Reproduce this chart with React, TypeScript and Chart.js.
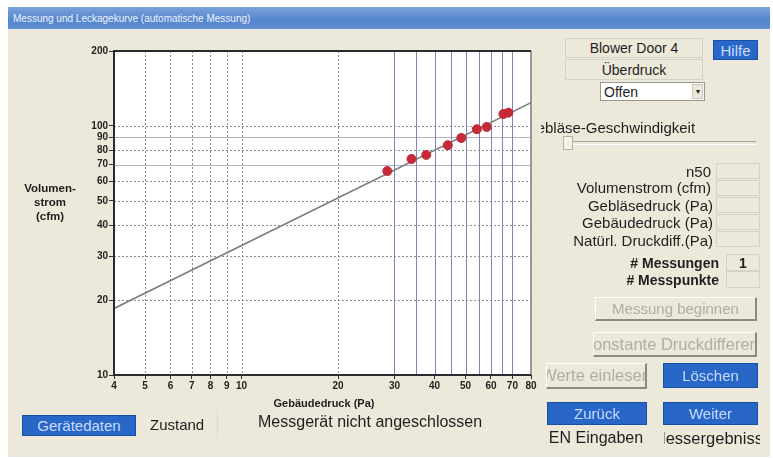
import React, { useEffect, useRef } from "react";
import { Chart, registerables } from "chart.js";

Chart.register(...registerables);

// ---- data ----
const measuredPressurePa = [28.5, 33.9, 37.7, 44.0, 48.5, 54.2, 58.2, 65.6, 68.0];
const measuredFlowCfm = [65.9, 73.7, 76.5, 83.7, 89.5, 97.0, 99.1, 111.7, 113.1];
const fitPressurePa = [4, 80];
const fitFlowCfm = [18.5, 124];
const xTickValues = [4, 5, 6, 7, 8, 9, 10, 20, 30, 40, 50, 60, 70, 80];
const yTickValues = [10, 20, 30, 40, 50, 60, 70, 80, 90, 100, 200];
const xGridDotted = [5, 6, 7, 8, 9, 10, 20];
const xGridMeasured = [30, 35, 40, 45, 50, 55, 60, 65, 70];
const yGridDotted = [20, 30, 40, 50, 60, 80, 100];
const yGridSolid = [70, 90];

const FONT = '"Liberation Sans", Arial, Helvetica, sans-serif';
const BEIGE = "#ECE9DB";
const BLUE = "#2866C8";

const framePlugin = {
  id: "framePlugin",
  beforeDraw(chart: any) {
    const { ctx, chartArea: a, scales } = chart;
    const x = scales.x;
    const y = scales.y;
    ctx.save();
    ctx.fillStyle = "#ffffff";
    ctx.fillRect(a.left, a.top, a.right - a.left, a.bottom - a.top);
    ctx.lineWidth = 1;
    const vline = (v: number) => {
      const px = Math.round(x.getPixelForValue(v)) + 0.5;
      ctx.beginPath();
      ctx.moveTo(px, a.top);
      ctx.lineTo(px, a.bottom);
      ctx.stroke();
    };
    const hline = (v: number) => {
      const py = Math.round(y.getPixelForValue(v)) + 0.5;
      ctx.beginPath();
      ctx.moveTo(a.left, py);
      ctx.lineTo(a.right, py);
      ctx.stroke();
    };
    ctx.strokeStyle = "#8e8e8e";
    ctx.setLineDash([2, 2]);
    xGridDotted.forEach(vline);
    yGridDotted.forEach(hline);
    ctx.setLineDash([]);
    ctx.strokeStyle = "#b4b4c4";
    yGridSolid.forEach(hline);
    ctx.strokeStyle = "#8282b8";
    xGridMeasured.forEach(vline);
    ctx.restore();
  },
  afterDatasetsDraw(chart: any) {
    const { ctx, chartArea: a } = chart;
    ctx.save();
    ctx.strokeStyle = "#7a7a7a";
    ctx.lineWidth = 1.5;
    ctx.beginPath();
    ctx.moveTo(a.right, a.top);
    ctx.lineTo(a.right, a.bottom);
    ctx.stroke();
    ctx.strokeStyle = "#2b2b2b";
    ctx.lineWidth = 2;
    ctx.beginPath();
    ctx.moveTo(a.right, a.top);
    ctx.lineTo(a.left, a.top);
    ctx.lineTo(a.left, a.bottom);
    ctx.lineTo(a.right, a.bottom);
    ctx.stroke();
    ctx.restore();
  },
};

function LeakageChart() {
  const ref = useRef<HTMLCanvasElement | null>(null);
  useEffect(() => {
    if (!ref.current) return;
    const tickFont = { family: FONT, size: 10, weight: "bold" as const };
    const chart = new Chart(ref.current, {
      type: "scatter",
      data: {
        datasets: [
          {
            type: "line",
            data: fitPressurePa.map((p, i) => ({ x: p, y: fitFlowCfm[i] })),
            borderColor: "#7c7c7c",
            borderWidth: 1.6,
            pointRadius: 0,
            fill: false,
            order: 2,
          } as any,
          {
            type: "scatter",
            data: measuredPressurePa.map((p, i) => ({ x: p, y: measuredFlowCfm[i] })),
            backgroundColor: "#c42a38",
            borderColor: "#c42a38",
            pointRadius: 4.5,
            order: 1,
          },
        ],
      },
      options: {
        animation: false,
        responsive: false,
        maintainAspectRatio: false,
        layout: { padding: { top: 21, right: 14, left: 0, bottom: 0 } },
        plugins: { legend: { display: false }, tooltip: { enabled: false } },
        scales: {
          x: {
            type: "logarithmic",
            min: 4,
            max: 80,
            afterBuildTicks: (s: any) => {
              s.ticks = xTickValues.map((v) => ({ value: v }));
            },
            afterFit: (s: any) => {
              s.height = 55;
            },
            ticks: {
              autoSkip: false,
              maxRotation: 0,
              color: "#222",
              font: tickFont,
              padding: 1,
              callback: (v: any) => String(v),
            },
            grid: { drawOnChartArea: false, drawTicks: true, tickLength: 4, tickColor: "#333" },
            border: { display: false },
          },
          y: {
            type: "logarithmic",
            min: 10,
            max: 200,
            afterBuildTicks: (s: any) => {
              s.ticks = yTickValues.map((v) => ({ value: v }));
            },
            afterFit: (s: any) => {
              s.width = 114;
            },
            ticks: {
              autoSkip: false,
              color: "#222",
              font: tickFont,
              padding: 1,
              callback: (v: any) => String(v),
            },
            grid: { drawOnChartArea: false, drawTicks: true, tickLength: 5, tickColor: "#333" },
            border: { display: false },
          },
        },
      } as any,
      plugins: [framePlugin],
    });
    return () => chart.destroy();
  }, []);
  return (
    <canvas
      ref={ref}
      width={545}
      height={400}
      style={{ position: "absolute", left: 0, top: 30, width: 545, height: 400 }}
    />
  );
}

type P = {
  x: number;
  y: number;
  w: number;
  h: number;
  children?: any;
  style?: any;
  align?: "left" | "center" | "right";
};

function Abs({ x, y, w, h, children, style, align = "left" }: P) {
  return (
    <div
      style={{
        position: "absolute",
        left: x,
        top: y,
        width: w,
        height: h,
        display: "flex",
        alignItems: "center",
        justifyContent: align === "left" ? "flex-start" : align === "right" ? "flex-end" : "center",
        whiteSpace: "nowrap",
        overflow: "hidden",
        boxSizing: "border-box",
        fontFamily: FONT,
        fontSize: 15,
        color: "#1e1e1e",
        ...style,
      }}
    >
      {children}
    </div>
  );
}

function BlueButton(p: P) {
  return (
    <Abs
      {...p}
      align="center"
      style={{
        background: BLUE,
        border: "1px solid #1a4fa6",
        color: "#c9dcff",
        ...p.style,
      }}
    />
  );
}

function GreyButton(p: P) {
  return (
    <Abs
      {...p}
      align="center"
      style={{
        background: BEIGE,
        borderTop: "1px solid #ffffff",
        borderLeft: "1px solid #ffffff",
        borderRight: "2px solid #8d8a7e",
        borderBottom: "2px solid #8d8a7e",
        color: "#b0aea4",
        ...p.style,
      }}
    />
  );
}

const etched = { border: "1px solid #d6d3c4" };

export default function App() {
  return (
    <div
      style={{
        position: "absolute",
        left: 0,
        top: 0,
        width: 773,
        height: 458,
        background: "#ffffff",
        overflow: "hidden",
        fontFamily: FONT,
      }}
    >
      {/* window body */}
      <div style={{ position: "absolute", left: 8, top: 28, width: 762, height: 429, background: BEIGE }} />
      {/* title bar */}
      <Abs
        x={8}
        y={7}
        w={762}
        h={22}
        style={{
          background: "linear-gradient(#7aa3dc, #5485cd 60%, #6391d4)",
          color: "#eef4ff",
          fontSize: 10,
          paddingLeft: 5,
        }}
      >
        Messung und Leckagekurve (automatische Messung)
      </Abs>

      <LeakageChart />

      {/* axis titles */}
      <div
        style={{
          position: "absolute",
          left: 18,
          top: 181,
          width: 64,
          textAlign: "center",
          fontFamily: FONT,
          fontWeight: "bold",
          fontSize: 11.5,
          lineHeight: "14px",
          color: "#1e1e1e",
        }}
      >
        Volumen-
        <br />
        strom
        <br />
        (cfm)
      </div>
      <Abs x={224} y={395} w={200} h={16} align="center" style={{ fontWeight: "bold", fontSize: 11 }}>
        Gebäudedruck (Pa)
      </Abs>

      {/* bottom left */}
      <BlueButton x={22} y={415} w={114} h={21} style={{ fontSize: 15 }}>
        Gerätedaten
      </BlueButton>
      <Abs x={150} y={413} w={70} h={22}>
        Zustand
      </Abs>
      <div style={{ position: "absolute", left: 217, top: 410, width: 1, height: 28, background: "#dcd9cc" }} />
      <Abs x={258} y={411} w={240} h={22} style={{ fontSize: 16 }}>
        Messgerät nicht angeschlossen
      </Abs>

      {/* right panel */}
      <Abs x={565} y={38} w={138} h={20} align="center" style={{ ...etched, fontSize: 14 }}>
        Blower Door 4
      </Abs>
      <Abs x={565} y={59} w={138} h={21} align="center" style={{ ...etched, fontSize: 14 }}>
        Überdruck
      </Abs>
      <BlueButton x={713} y={40} w={45} h={20} style={{ fontSize: 15 }}>
        Hilfe
      </BlueButton>
      <Abs
        x={600}
        y={82}
        w={105}
        h={19}
        style={{ background: "#ffffff", border: "1px solid #9a988c", paddingLeft: 3, fontSize: 14 }}
      >
        Offen
      </Abs>
      <Abs
        x={692}
        y={84}
        w={11}
        h={15}
        align="center"
        style={{ background: BEIGE, border: "1px solid #c9c6b8", fontSize: 8, color: "#222" }}
      >
        ▾
      </Abs>
      <Abs x={541} y={118} w={180} h={18}>
        <span style={{ marginLeft: -16 }}>Gebläse-Geschwindigkeit</span>
      </Abs>
      {/* slider */}
      <div
        style={{
          position: "absolute",
          left: 568,
          top: 141,
          width: 188,
          height: 2,
          borderTop: "1px solid #a8a59a",
          borderBottom: "1px solid #ffffff",
        }}
      />
      <div
        style={{
          position: "absolute",
          left: 563,
          top: 136,
          width: 10,
          height: 14,
          background: "#f4f2ea",
          border: "1px solid #b5b2a6",
          boxSizing: "border-box",
        }}
      />

      {/* labels + value boxes */}
      <Abs x={560} y={163} w={151} h={17} align="right">
        n50
      </Abs>
      <Abs x={540} y={179} w={171} h={17} align="right">
        Volumenstrom (cfm)
      </Abs>
      <Abs x={540} y={197} w={173} h={17} align="right">
        Gebläsedruck (Pa)
      </Abs>
      <Abs x={540} y={214} w={173} h={17} align="right">
        Gebäudedruck (Pa)
      </Abs>
      <Abs x={540} y={232} w={173} h={17} align="right">
        Natürl. Druckdiff.(Pa)
      </Abs>
      {[163, 180, 197, 214, 231].map((t) => (
        <div
          key={t}
          style={{ position: "absolute", left: 716, top: t, width: 44, height: 16, ...etched, boxSizing: "border-box" }}
        />
      ))}
      <Abs x={600} y={254} w={119} h={17} align="right" style={{ fontWeight: "bold", fontSize: 14 }}>
        # Messungen
      </Abs>
      <Abs x={600} y={271} w={119} h={17} align="right" style={{ fontWeight: "bold", fontSize: 14 }}>
        # Messpunkte
      </Abs>
      <Abs x={726} y={254} w={34} h={17} align="center" style={{ ...etched, fontWeight: "bold", fontSize: 14 }}>
        1
      </Abs>
      <div style={{ position: "absolute", left: 726, top: 271, width: 34, height: 17, ...etched, boxSizing: "border-box" }} />

      <GreyButton x={595} y={297} w={162} h={24}>
        Messung beginnen
      </GreyButton>
      <GreyButton x={593} y={332} w={164} h={25} style={{ fontSize: 16.5 }}>
        Konstante Druckdifferenz
      </GreyButton>
      <GreyButton x={546} y={363} w={101} h={26} style={{ fontSize: 16.5 }}>
        Werte einlesen
      </GreyButton>
      <BlueButton x={663} y={363} w={95} h={25}>
        Löschen
      </BlueButton>
      <BlueButton x={547} y={402} w={100} h={23}>
        Zurück
      </BlueButton>
      <BlueButton x={663} y={402} w={95} h={23}>
        Weiter
      </BlueButton>
      <Abs x={540} y={429} w={112} h={18} align="center" style={{ fontSize: 16 }}>
        EN Eingaben
      </Abs>
      <Abs x={664} y={429} w={96} h={18} align="center" style={{ fontSize: 16.5 }}>
        Messergebnisse
      </Abs>
    </div>
  );
}
